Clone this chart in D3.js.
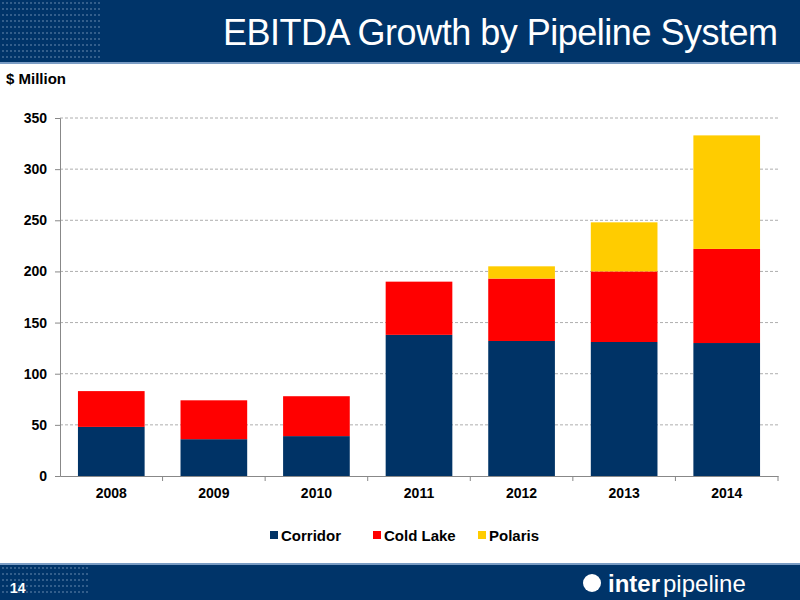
<!DOCTYPE html>
<html><head><meta charset="utf-8">
<script src="https://cdn.jsdelivr.net/npm/d3@7"></script>
<style>body{margin:0;background:#fff;font-family:"Liberation Sans",Arial,sans-serif;}</style>
</head><body>
<script>
var years = ["2008","2009","2010","2011","2012","2013","2014"];
var seriesNames = ["Corridor","Cold Lake","Polaris"];
var corridor = [48,36,39,138,132,131,130];
var coldLake = [35,38,39,52,61,69,92];
var polaris = [0,0,0,0,12,48,111];
var yTicks = [0,50,100,150,200,250,300,350];
var colors = ["#003366","#ff0000","#ffcc00"];

var width = 800, height = 600;
var svg = d3.select("body").append("svg").attr("width", width).attr("height", height);

// Header
svg.append("rect").attr("x",0).attr("y",0).attr("width",width).attr("height",62).attr("fill","#003469");
svg.append("rect").attr("x",0).attr("y",62).attr("width",width).attr("height",2).attr("fill","#7a9cc4");
var dots = svg.append("g").attr("fill","#8fa8c8");
for (var r = 0; r < 10; r++) for (var c = 0; c < 25; c++)
  dots.append("circle").attr("cx", 3 + c*4).attr("cy", 3 + r*6).attr("r",0.7);
svg.append("text").text("EBITDA Growth by Pipeline System")
   .attr("x",778).attr("y",45).attr("text-anchor","end")
   .attr("fill","#fff").attr("font-size",36).attr("textLength",555);

// Footer
svg.append("rect").attr("x",0).attr("y",563).attr("width",width).attr("height",2).attr("fill","#7a9cc4");
svg.append("rect").attr("x",0).attr("y",565).attr("width",width).attr("height",35).attr("fill","#003469");
var fd = svg.append("g").attr("fill","#8fa8c8");
for (var r2 = 0; r2 < 5; r2++) for (var c2 = 0; c2 < 22; c2++)
  fd.append("circle").attr("cx", 3 + c2*4).attr("cy", 568 + r2*6).attr("r",0.7);
svg.append("text").text("14").attr("x",10).attr("y",593).attr("fill","#fff")
   .attr("font-size",14).attr("font-weight","bold");
svg.append("circle").attr("cx",592).attr("cy",583).attr("r",9).attr("fill","#fff");
svg.append("text").attr("x",608).attr("y",592).attr("fill","#fff").attr("font-size",24)
   .html('<tspan font-weight="bold">inter</tspan><tspan dx="3">pipeline</tspan>');

svg.append("text").text("$ Million").attr("x",6).attr("y",84)
   .attr("font-size",15).attr("font-weight","bold");

// Chart
var plotLeft = 60, plotRight = 778, plotTop = 118, plotBottom = 476;
var x = d3.scaleBand().domain(years).range([plotLeft,plotRight]).paddingInner(0.35).paddingOuter(0.175);
var y = d3.scaleLinear().domain([0,350]).range([plotBottom,plotTop]);

svg.append("g").selectAll("line").data(yTicks.slice(1)).enter().append("line")
   .attr("x1",plotLeft).attr("x2",plotRight).attr("y1",d=>y(d)).attr("y2",d=>y(d))
   .attr("stroke","#999").attr("stroke-dasharray","3,2").attr("stroke-width",0.8);

var table = years.map(function(yr,i){ return {year:yr, "Corridor":corridor[i], "Cold Lake":coldLake[i], "Polaris":polaris[i]}; });
var stack = d3.stack().keys(seriesNames)(table);
svg.append("g").selectAll("g").data(stack).enter().append("g")
   .attr("fill",(d,i)=>colors[i])
   .selectAll("rect").data(d=>d).enter().append("rect")
   .attr("x",d=>x(d.data.year)).attr("width",x.bandwidth())
   .attr("y",d=>y(d[1])).attr("height",d=>y(d[0])-y(d[1]));

var yAxis = svg.append("g").attr("transform","translate("+plotLeft+",0)")
   .call(d3.axisLeft(y).tickValues(yTicks).tickSize(5).tickPadding(8));
var xAxis = svg.append("g").attr("transform","translate(0,"+plotBottom+")")
   .call(d3.axisBottom(x).tickSize(0).tickPadding(12));
[xAxis,yAxis].forEach(function(a){
  a.selectAll("text").attr("font-size",14).attr("font-weight","bold").attr("fill","#000")
   .attr("font-family","Liberation Sans, Arial, sans-serif");
  a.select(".domain").attr("stroke","#888");
  a.selectAll("line").attr("stroke","#888");
});
xAxis.selectAll(".tick").append("line").attr("stroke","#888")
   .attr("x1",x.step()/2).attr("x2",x.step()/2).attr("y1",0).attr("y2",5);

// Legend
var legendX = [270, 373, 478];
var lg = svg.append("g").selectAll("g").data(seriesNames).enter().append("g")
   .attr("transform",(d,i)=>"translate("+legendX[i]+",541)");
lg.append("rect").attr("x",0).attr("y",-10).attr("width",8).attr("height",8).attr("fill",(d,i)=>colors[i]);
lg.append("text").text(d=>d).attr("x",11).attr("y",0).attr("font-size",15).attr("font-weight","bold");
</script>
</body></html>
